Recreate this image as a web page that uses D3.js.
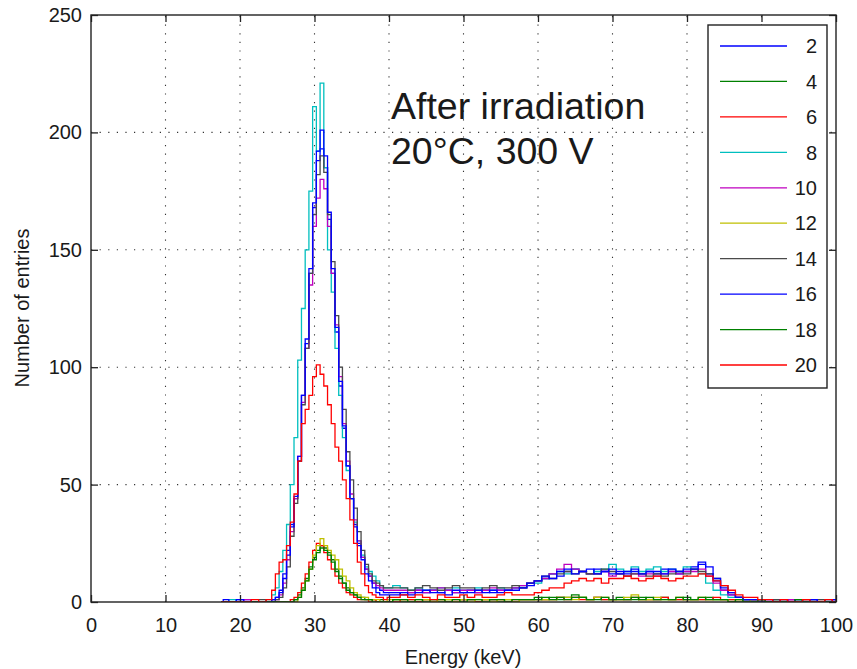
<!DOCTYPE html>
<html>
<head>
<meta charset="utf-8">
<script src="https://cdn.jsdelivr.net/npm/d3@7/dist/d3.min.js"></script>
<style>
  html, body { margin: 0; padding: 0; background: #fff; }
  svg { display: block; }
  text { font-family: "Liberation Sans", Arial, Helvetica, sans-serif; fill: #1a1a1a; }
</style>
</head>
<body>
<svg id="chart" width="857" height="669"></svg>
<script>
// ---------------- DATA ----------------
const energy = [17.5,18,19,20,21,22,23,
  24,24.5,25,25.5,26,26.5,27,27.5,28,28.5,29,29.5,30,30.5,31,31.5,32,32.5,33,33.5,34,34.5,35,35.5,36,36.5,37,37.5,38,38.5,39,39.5,40,
  41,42,43,44,45,46,47,48,49,50,51,52,53,54,55,56,57,58,59,60,
  61,62,63,64,65,66,67,68,69,70,71,72,73,74,75,76,77,78,79,80,
  81,82,83,84,85,86,87,88,89,90,91,92,93,94,95,96,97,98,99,100];

const xTicks = [0,10,20,30,40,50,60,70,80,90,100];
const yTicks = [0,50,100,150,200,250];
const seriesNames = ["2","4","6","8","10","12","14","16","18","20"];
const seriesColors = ["#0000ff","#008000","#ff0000","#00bfbf","#bf00bf","#bfbf00","#4a4a4a","#0000ff","#008000","#ff0000"];

const s2 = [0,0,0,1,1,0,0,
  0,1,2,5,12,22,33,44,60,88,110,140,168,188,193,185,163,140,115,92,74,58,44,33,25,19,14,11,8,6,5,4,4,
  4,3,4,5,4,5,4,5,4,4, 5,4,5,4,5,5,6,6,7,9,
  10,12,11,13,14,13,12,14,13,12, 13,12,13,12,13,12,14,13,12,13,
  15,17,12,9,5,3,2,1,1,1, 0,1,0,1,0,1,0,0,1,1];
const s4 = [0,0,0,0,0,0,0,
  0,0,0,0,0,0,0,1,3,6,10,15,19,22,24,23,21,18,14,11,8,6,4,3,2,2,1,1,1,0,1,0,0,
  1,0,1,0,1,1,0,1,0,1, 1,0,1,1,0,1,0,1,1,2,
  1,2,1,2,3,2,1,2,1,1, 2,1,1,2,1,1,2,1,1,2,
  1,1,2,1,1,1,0,1,0,1, 0,0,1,0,0,0,1,0,0,0];
const s6 = [0,0,0,0,0,0,0,
  0,0,0,0,0,0,1,2,4,8,12,17,22,25,24,21,18,14,11,8,6,4,3,2,1,1,1,0,1,0,0,0,0,
  0,1,1,0,1,0,1,0,1,1, 1,0,1,1,1,0,1,1,1,1,
  1,1,2,1,2,1,1,2,1,1, 1,1,2,1,1,1,2,1,1,1,
  1,1,1,2,1,1,1,0,1,0, 0,0,0,1,0,0,0,1,0,0];
const s8 = [0,0,1,0,0,0,0,
  1,3,6,13,22,33,50,70,103,125,150,175,211,192,221,185,150,132,108,88,70,56,44,34,26,20,15,13,11,9,7,6,6,
  7,6,5,6,5,5,6,5,6,5, 5,6,5,5,6,5,6,7,8,8,
  10,12,13,12,14,13,12,13,14,16, 14,13,15,13,14,15,13,14,13,15,
  14,12,8,5,3,2,2,1,1,1, 0,1,0,0,1,0,1,0,1,0];
const s10 = [0,0,0,0,1,0,0,
  0,0,1,3,8,18,30,44,62,85,108,135,160,172,180,176,160,140,118,96,76,60,46,35,26,19,14,11,8,7,6,5,5,
  5,5,4,5,4,5,6,5,4,5, 5,4,5,6,5,5,6,7,8,9,
  10,12,14,16,14,13,12,12,13,11, 12,11,12,11,12,11,12,13,12,13,
  13,14,11,8,5,3,2,1,1,0, 1,0,0,1,0,1,1,0,0,1];
const s12 = [0,0,0,0,0,0,0,
  0,0,0,0,0,0,0,0,2,5,9,14,20,24,27,24,22,20,18,14,11,9,6,4,3,2,2,1,1,1,0,0,1,
  1,1,0,1,1,0,1,1,0,1, 0,1,1,0,1,1,0,1,1,1,
  1,1,2,2,1,2,1,2,2,1, 1,2,3,1,1,2,1,1,2,1,
  1,2,1,1,1,0,1,0,1,0, 0,1,0,0,0,1,0,0,0,0];
const s14 = [0,0,0,0,0,0,1,
  0,0,1,2,6,15,28,42,60,84,108,140,165,182,190,183,165,145,122,100,82,64,52,40,30,22,16,12,9,8,7,6,6,
  6,6,5,6,7,6,5,6,7,6, 6,5,6,7,6,6,7,6,8,9,
  11,10,12,13,12,13,12,12,14,13, 12,11,12,12,11,12,11,12,13,12,
  14,13,12,10,7,4,2,1,1,1, 0,1,0,0,1,0,0,1,0,0];
const s16 = [0,1,0,1,0,0,0,
  0,1,2,4,10,20,32,45,62,88,112,142,170,192,201,190,166,142,117,94,75,58,44,32,24,18,12,9,6,4,3,3,3,
  3,4,3,4,5,4,4,3,5,4, 4,5,4,5,4,5,5,6,8,9,
  11,10,13,14,12,13,14,12,13,14, 12,13,14,12,13,13,12,14,13,14,
  14,16,15,10,6,4,2,1,1,0, 1,0,1,0,1,0,1,0,0,1];
const s18 = [0,0,0,0,0,0,0,
  0,0,0,0,0,0,0,1,2,5,9,14,18,21,23,22,20,17,13,10,8,5,4,3,2,1,1,1,0,0,0,0,0,
  1,1,0,1,0,1,1,0,1,0, 1,1,0,1,1,0,1,1,1,1,
  2,1,2,1,2,2,1,1,2,1, 1,1,2,1,2,1,1,1,2,1,
  1,2,1,1,1,0,1,0,0,1, 0,0,0,0,1,0,0,0,0,0];
const s20 = [0,0,0,0,0,1,0,
  1,5,12,17,18,24,34,46,60,76,82,88,96,101,97,92,84,76,66,60,52,44,35,25,17,12,7,4,3,2,2,1,2,
  2,3,2,3,2,1,3,2,2,3, 2,3,2,2,3,4,3,3,3,4,
  5,6,6,8,9,10,9,10,8,10, 10,11,10,9,10,11,10,9,10,11,
  11,12,11,9,7,5,3,2,2,1, 1,0,1,0,0,1,0,0,1,0];

const seriesValues = [s2,s4,s6,s8,s10,s12,s14,s16,s18,s20];

// ---------------- CHART ----------------
const svg = d3.select("#chart");
const plot = {left: 91, right: 836, top: 15, bottom: 602};
const x = d3.scaleLinear().domain([0,100]).range([plot.left, plot.right]);
const y = d3.scaleLinear().domain([0,250]).range([plot.bottom, plot.top]);

// grid
const grid = svg.append("g").attr("stroke", "#333").attr("stroke-width", 1.1)
  .attr("stroke-dasharray", "1.2,7.4");
grid.selectAll("line.gx").data(xTicks.filter(t => t > 0 && t < 100)).join("line")
  .attr("x1", d => x(d)).attr("x2", d => x(d))
  .attr("y1", plot.bottom).attr("y2", plot.top);
grid.selectAll("line.gy").data(yTicks.filter(t => t > 0 && t < 250)).join("line")
  .attr("y1", d => y(d)).attr("y2", d => y(d))
  .attr("x1", plot.left).attr("x2", plot.right);

// data lines
svg.append("clipPath").attr("id", "clip").append("rect")
  .attr("x", plot.left).attr("y", plot.top)
  .attr("width", plot.right - plot.left).attr("height", plot.bottom - plot.top);
const line = d3.line().x((d, i) => x(energy[i])).y(d => y(d)).curve(d3.curveStep);
svg.append("g").attr("clip-path", "url(#clip)")
  .selectAll("path").data(seriesValues).join("path")
  .attr("d", d => line(d))
  .attr("fill", "none")
  .attr("stroke", (d, i) => seriesColors[i])
  .attr("stroke-width", 1.3);

// axes
function styleAxis(g) {
  g.select(".domain").remove();
  g.selectAll(".tick line").attr("stroke", "#222").attr("stroke-width", 1.3);
  g.selectAll(".tick text").attr("font-size", 20).attr("fill", "#1a1a1a")
    .attr("font-family", "'Liberation Sans', Arial, sans-serif");
}
svg.append("g").attr("transform", `translate(0,${plot.bottom})`)
  .call(d3.axisBottom(x).tickValues(xTicks).tickSize(-7).tickPadding(16))
  .call(styleAxis);
svg.append("g").attr("transform", `translate(0,${plot.top})`)
  .call(d3.axisTop(x).tickValues(xTicks).tickSize(-7).tickFormat(""))
  .call(styleAxis);
svg.append("g").attr("transform", `translate(${plot.left},0)`)
  .call(d3.axisLeft(y).tickValues(yTicks).tickSize(-7).tickPadding(9))
  .call(styleAxis);
svg.append("g").attr("transform", `translate(${plot.right},0)`)
  .call(d3.axisRight(y).tickValues(yTicks).tickSize(-7).tickFormat(""))
  .call(styleAxis);

// frame
svg.append("rect")
  .attr("x", plot.left).attr("y", plot.top)
  .attr("width", plot.right - plot.left).attr("height", plot.bottom - plot.top)
  .attr("fill", "none").attr("stroke", "#222").attr("stroke-width", 1.4);

// axis labels
svg.append("text").attr("x", 463).attr("y", 664).attr("text-anchor", "middle")
  .attr("font-size", 20).text("Energy (keV)");
svg.append("text").attr("transform", "translate(29,308) rotate(-90)")
  .attr("text-anchor", "middle").attr("font-size", 20).text("Number of entries");

// annotation
svg.append("text").attr("x", 391).attr("y", 119).attr("font-size", 37.5).attr("fill", "#000")
  .text("After irradiation");
svg.append("text").attr("x", 391).attr("y", 164).attr("font-size", 37.5).attr("fill", "#000")
  .text("20°C, 300 V");

// legend
const lg = svg.append("g");
lg.append("rect").attr("x", 708).attr("y", 25).attr("width", 119).attr("height", 363)
  .attr("fill", "#fff").attr("stroke", "#222").attr("stroke-width", 1.4);
const rowY = d3.scalePoint().domain(seriesNames).range([46, 365]);
const rows = lg.selectAll("g.row").data(seriesNames).join("g")
  .attr("transform", d => `translate(0,${rowY(d)})`);
rows.append("line").attr("x1", 720).attr("x2", 787).attr("y1", 0).attr("y2", 0)
  .attr("stroke", (d, i) => seriesColors[i]).attr("stroke-width", 1.3);
rows.append("text").attr("x", 817).attr("y", 0).attr("dy", "0.36em")
  .attr("text-anchor", "end").attr("font-size", 20).text(d => d);
</script>
</body>
</html>
